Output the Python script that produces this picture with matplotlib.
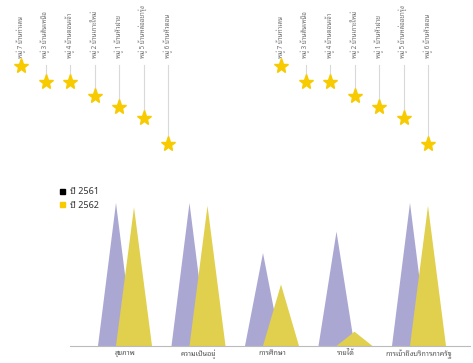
import matplotlib
matplotlib.use("Agg")
import matplotlib.pyplot as plt
from matplotlib import font_manager

# ---------------- data ----------------
villages = ["หมู่ 7 บ้านท่าเลน", "หมู่ 3 บ้านสันเหนือ", "หมู่ 4 บ้านดอนเจ้า",
            "หมู่ 2 บ้านเกาะใหม่", "หมู่ 1 บ้านหัวฝาย", "หมู่ 5 บ้านหล่ออยารุ่ง",
            "หมู่ 6 บ้านหัวดอน"]
village_left = [1, 17, 17, 31, 42, 53, 79]
village_right = [1, 17, 17, 31, 42, 53, 79]

categories = ["สุขภาพ", "ความเป็นอยู่", "การศึกษา", "รายได้", "การเข้าถึงบริการภาครัฐ"]
series_names = ["ปี 2561", "ปี 2562"]
values_2561 = [100, 100, 65, 80, 100]
values_2562 = [97, 98, 43, 10, 98]

# ---------------- font choice ----------------
installed = {f.name for f in font_manager.fontManager.ttflist}
prefs = ["Noto Sans Thai Looped", "Noto Sans Thai", "Sarabun",
         "IBM Plex Sans Thai Looped", "IBM Plex Sans Thai", "Loma", "Garuda"]
fam = [p for p in prefs if p in installed][:1] + ["DejaVu Sans"]
plt.rcParams["font.family"] = fam

W, H = 473, 363
fig = plt.figure(figsize=(W / 100, H / 100), dpi=100)


def px_axes(x0, y0, x1, y1):
    return fig.add_axes([x0 / W, 1 - y1 / H, (x1 - x0) / W, (y1 - y0) / H])


STAR = "#F7CB00"
STEM = "#D9D9D9"


def lollipop(ax, vals):
    xs = list(range(len(villages)))
    ax.set_xlim(-0.5, len(villages) - 0.5)
    ax.set_ylim(95, -65)
    for x, v, lab in zip(xs, vals, villages):
        ax.plot([x, x], [0, v], color=STEM, lw=0.8, zorder=1)
        ax.text(x, -7, lab, rotation=90, ha="center", va="bottom",
                fontsize=4.5, color="#6b6b6b")
    ax.plot(xs, vals, ls="none", marker="*", ms=11, color=STAR,
            markeredgecolor=STAR, zorder=3)
    ax.axis("off")


ax1 = px_axes(8.75, 0, 180.25, 160)
lollipop(ax1, village_left)
ax2 = px_axes(268.75, 0, 440.25, 160)
lollipop(ax2, village_right)

# ---------------- triangle bars ----------------
LAV = "#ABA7D3"
YEL = "#E0D04D"
x_left, x_right = 70, 470
c0, step = 125, 73.5
ax3 = px_axes(x_left, 190, x_right, 346)
ax3.set_xlim((x_left - c0) / step, (x_right - c0) / step)
ax3.set_ylim(0, 100 * 156 / 143)
half = 0.245
off = 0.1225
for i, (a, b) in enumerate(zip(values_2561, values_2562)):
    xa = i - off
    ax3.fill([xa - half, xa, xa + half], [0, a, 0], color=LAV, lw=0, zorder=1)
    xb = i + off
    ax3.fill([xb - half, xb, xb + half], [0, b, 0], color=YEL, lw=0, zorder=2)
for s in ["top", "right", "left"]:
    ax3.spines[s].set_visible(False)
ax3.spines["bottom"].set_color("#BBBBBB")
ax3.spines["bottom"].set_linewidth(0.8)
ax3.set_yticks([])
ax3.set_xticks(range(len(categories)))
ax3.set_xticklabels(categories, fontsize=5.2, color="#555555")
ax3.tick_params(axis="x", length=0, pad=3)

# legend
leg_y = [191, 205]
leg_c = ["#000000", "#F7CB00"]
for yy, cc, nm in zip(leg_y, leg_c, series_names):
    fig.patches.append(plt.Rectangle((60 / W, 1 - (yy + 2.5) / H), 5 / W, 5 / H,
                                     transform=fig.transFigure, color=cc))
    fig.text(70 / W, 1 - yy / H, nm, fontsize=6.5, color="#333333", va="center")

fig.savefig("out.png", dpi=100)
